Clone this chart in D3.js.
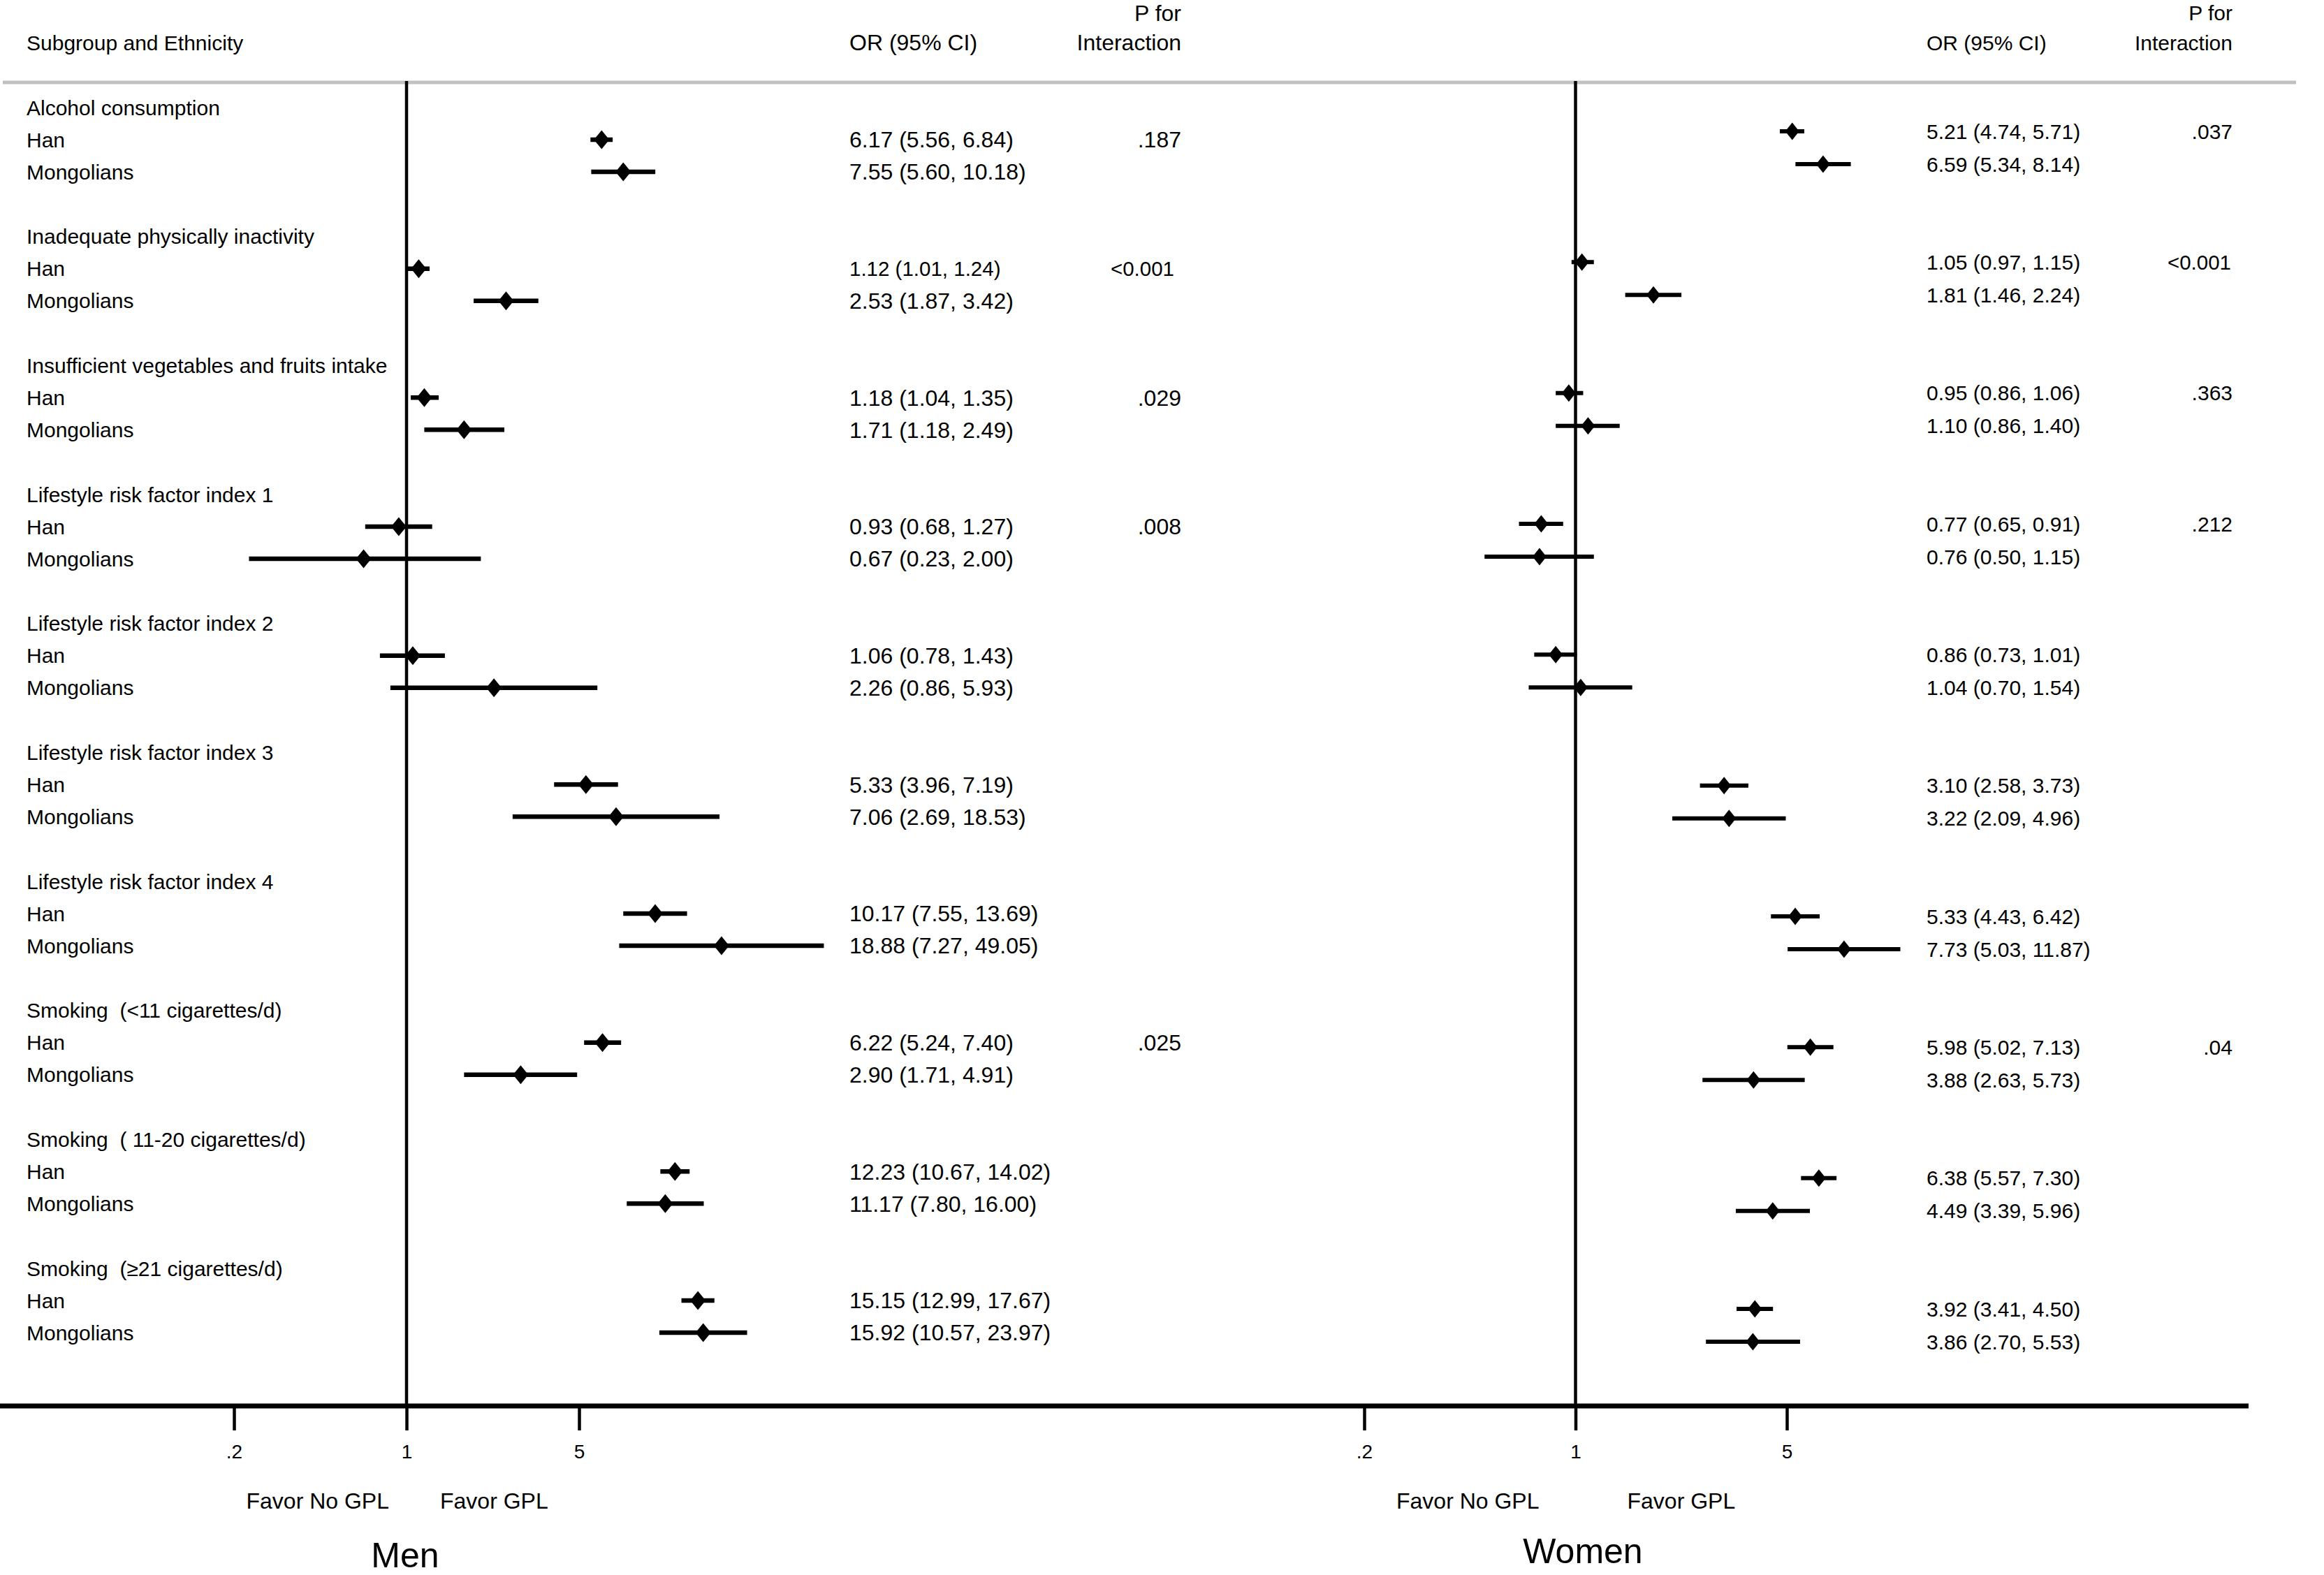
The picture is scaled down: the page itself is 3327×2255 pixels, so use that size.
<!DOCTYPE html>
<html>
<head>
<meta charset="utf-8">
<script src="https://cdn.jsdelivr.net/npm/d3@7"></script>
<style>
  body { margin: 0; background: #fff; }
  svg { display: block; font-family: "Liberation Sans", Arial, sans-serif; }
  text { white-space: pre; }
</style>
</head>
<body>
<svg width="3327" height="2255"></svg>
<script>
const groups = [
  "Alcohol consumption",
  "Inadequate physically inactivity",
  "Insufficient vegetables and fruits intake",
  "Lifestyle risk factor index 1",
  "Lifestyle risk factor index 2",
  "Lifestyle risk factor index 3",
  "Lifestyle risk factor index 4",
  "Smoking  (<11 cigarettes/d)",
  "Smoking  ( 11-20 cigarettes/d)",
  "Smoking  (\u226521 cigarettes/d)"
];
const ethnicities = ["Han", "Mongolians"];

// each pair is [Han, Mongolians]
const menOR = [[6.17, 7.55], [1.12, 2.53], [1.18, 1.71], [0.93, 0.67], [1.06, 2.26],
  [5.33, 7.06], [10.17, 18.88], [6.22, 2.90], [12.23, 11.17], [15.15, 15.92]];
const menLower = [[5.56, 5.60], [1.01, 1.87], [1.04, 1.18], [0.68, 0.23], [0.78, 0.86],
  [3.96, 2.69], [7.55, 7.27], [5.24, 1.71], [10.67, 7.80], [12.99, 10.57]];
const menUpper = [[6.84, 10.18], [1.24, 3.42], [1.35, 2.49], [1.27, 2.00], [1.43, 5.93],
  [7.19, 18.53], [13.69, 49.05], [7.40, 4.91], [14.02, 16.00], [17.67, 23.97]];
const menP = [".187", "<0.001", ".029", ".008", "", "", "", ".025", "", ""];

const womenOR = [[5.21, 6.59], [1.05, 1.81], [0.95, 1.10], [0.77, 0.76], [0.86, 1.04],
  [3.10, 3.22], [5.33, 7.73], [5.98, 3.88], [6.38, 4.49], [3.92, 3.86]];
const womenLower = [[4.74, 5.34], [0.97, 1.46], [0.86, 0.86], [0.65, 0.50], [0.73, 0.70],
  [2.58, 2.09], [4.43, 5.03], [5.02, 2.63], [5.57, 3.39], [3.41, 2.70]];
const womenUpper = [[5.71, 8.14], [1.15, 2.24], [1.06, 1.40], [0.91, 1.15], [1.01, 1.54],
  [3.73, 4.96], [6.42, 11.87], [7.13, 5.73], [7.30, 5.96], [4.50, 5.53]];
const womenP = [".037", "<0.001", ".363", ".212", "", "", "", ".04", "", ""];

const tickValues = [0.2, 1, 5];
const tickLabels = [".2", "1", "5"];

const svg = d3.select("svg");
const fmt = d3.format(".2f");
const axisY = 2013;

// gray header rule
svg.append("line")
  .attr("x1", 4).attr("x2", 3287)
  .attr("y1", 118).attr("y2", 118)
  .attr("stroke", "#c0c0c0")
  .attr("stroke-width", 5);

// bottom axis rule spans both panels
svg.append("line")
  .attr("x1", 0).attr("x2", 3219)
  .attr("y1", axisY).attr("y2", axisY)
  .attr("stroke", "#000")
  .attr("stroke-width", 7);

svg.append("text")
  .attr("x", 38).attr("y", 72)
  .attr("font-size", 30)
  .text("Subgroup and Ethnicity");

function drawPanel(p) {
  const g = svg.append("g");

  const x = d3.scaleLog().domain([0.2, 5]).range(p.xRange);
  const yGroup = d3.scaleLinear().domain([0, groups.length - 1]).range(p.yRange);
  const yEth = d3.scalePoint().domain(ethnicities).range([0, p.ethGap]);

  const rows = groups.flatMap((grp, i) => ethnicities.map((eth, j) => ({
    gi: i, eth: eth,
    or: p.or[i][j], lo: p.lo[i][j], hi: p.hi[i][j],
    y: yGroup(i) + p.ethStart + yEth(eth)
  })));

  // headers
  g.append("text").attr("x", p.valueX).attr("y", 72)
    .attr("font-size", p.valueSize).text("OR (95% CI)");
  g.append("text").attr("x", p.pRight).attr("y", p.pForY)
    .attr("text-anchor", "end").attr("font-size", p.valueSize).text("P for");
  g.append("text").attr("x", p.pRight).attr("y", 72)
    .attr("text-anchor", "end").attr("font-size", p.valueSize).text("Interaction");

  // reference line at OR = 1
  g.append("line")
    .attr("x1", x(1)).attr("x2", x(1))
    .attr("y1", 116).attr("y2", axisY)
    .attr("stroke", "#000")
    .attr("stroke-width", 4.5);

  if (p.labels) {
    g.selectAll(".grp").data(groups).enter().append("text")
      .attr("class", "grp")
      .attr("x", 38)
      .attr("y", (d, i) => yGroup(i))
      .attr("dy", "0.35em")
      .attr("font-size", 30)
      .text(d => d);
    g.selectAll(".eth").data(rows).enter().append("text")
      .attr("class", "eth")
      .attr("x", 38)
      .attr("y", d => d.y)
      .attr("dy", "0.35em")
      .attr("font-size", 30)
      .text(d => d.eth);
  }

  // confidence intervals
  g.selectAll(".ci").data(rows).enter().append("line")
    .attr("class", "ci")
    .attr("x1", d => x(d.lo)).attr("x2", d => x(d.hi))
    .attr("y1", d => d.y).attr("y2", d => d.y)
    .attr("stroke", "#000")
    .attr("stroke-width", p.ciWidth);

  // point estimates
  g.selectAll(".pt").data(rows).enter().append("path")
    .attr("class", "pt")
    .attr("d", `M0,${-p.dh}L${p.dw},0L0,${p.dh}L${-p.dw},0Z`)
    .attr("transform", d => `translate(${x(d.or)},${d.y})`)
    .attr("fill", "#000");

  // OR (95% CI) text
  g.selectAll(".val").data(rows).enter().append("text")
    .attr("class", "val")
    .attr("x", p.valueX)
    .attr("y", d => d.y)
    .attr("dy", "0.35em")
    .attr("font-size", d => p.small(d) ? 29.5 : p.valueSize)
    .text(d => `${fmt(d.or)} (${fmt(d.lo)}, ${fmt(d.hi)})`);

  // interaction p values, on the Han row
  g.selectAll(".pv").data(p.p).enter().append("text")
    .attr("class", "pv")
    .attr("x", d => d.startsWith("<") ? p.pRight - p.ltShift : p.pRight)
    .attr("y", (d, i) => yGroup(i) + p.ethStart)
    .attr("dy", "0.35em")
    .attr("text-anchor", "end")
    .attr("font-size", d => d.startsWith("<") ? 29.5 : p.valueSize)
    .text(d => d);

  // x axis ticks
  const axis = d3.axisBottom(x)
    .tickValues(tickValues)
    .tickFormat((d, i) => tickLabels[i])
    .tickSize(35)
    .tickPadding(20);
  const ax = g.append("g")
    .attr("transform", `translate(0,${axisY})`)
    .call(axis);
  ax.select(".domain").remove();
  ax.selectAll(".tick line").attr("stroke", "#000").attr("stroke-width", 4.5);
  ax.selectAll(".tick text")
    .attr("fill", "#000")
    .attr("font-size", 28)
    .attr("font-family", "Liberation Sans, Arial, sans-serif");

  g.append("text")
    .attr("x", x(1) - p.favorGap[0]).attr("y", 2160)
    .attr("text-anchor", "end").attr("font-size", 32)
    .text("Favor No GPL");
  g.append("text")
    .attr("x", x(1) + p.favorGap[1]).attr("y", 2160)
    .attr("font-size", 32)
    .text("Favor GPL");

  g.append("text")
    .attr("x", p.titleX).attr("y", p.titleY)
    .attr("text-anchor", "middle")
    .attr("font-size", 50)
    .text(p.title);
}

drawPanel({
  title: "Men", titleX: 580, titleY: 2244,
  labels: true,
  or: menOR, lo: menLower, hi: menUpper, p: menP,
  xRange: [335, 829],
  yRange: [154, 1816], ethStart: 46, ethGap: 46,
  valueX: 1216, valueSize: 32, pRight: 1691, pForY: 30, ltShift: 10,
  small: d => d.gi === 1 && d.eth === "Han",
  ciWidth: 6.5, dw: 11, dh: 13.5,
  favorGap: [25, 48]
});

drawPanel({
  title: "Women", titleX: 2266, titleY: 2238,
  labels: false,
  or: womenOR, lo: womenLower, hi: womenUpper, p: womenP,
  xRange: [1953, 2558],
  yRange: [188, 1874], ethStart: 0, ethGap: 47,
  valueX: 2758, valueSize: 30, pRight: 3196, pForY: 29, ltShift: 2,
  small: d => false,
  ciWidth: 6, dw: 10, dh: 12.5,
  favorGap: [52, 74]
});
</script>
</body>
</html>
